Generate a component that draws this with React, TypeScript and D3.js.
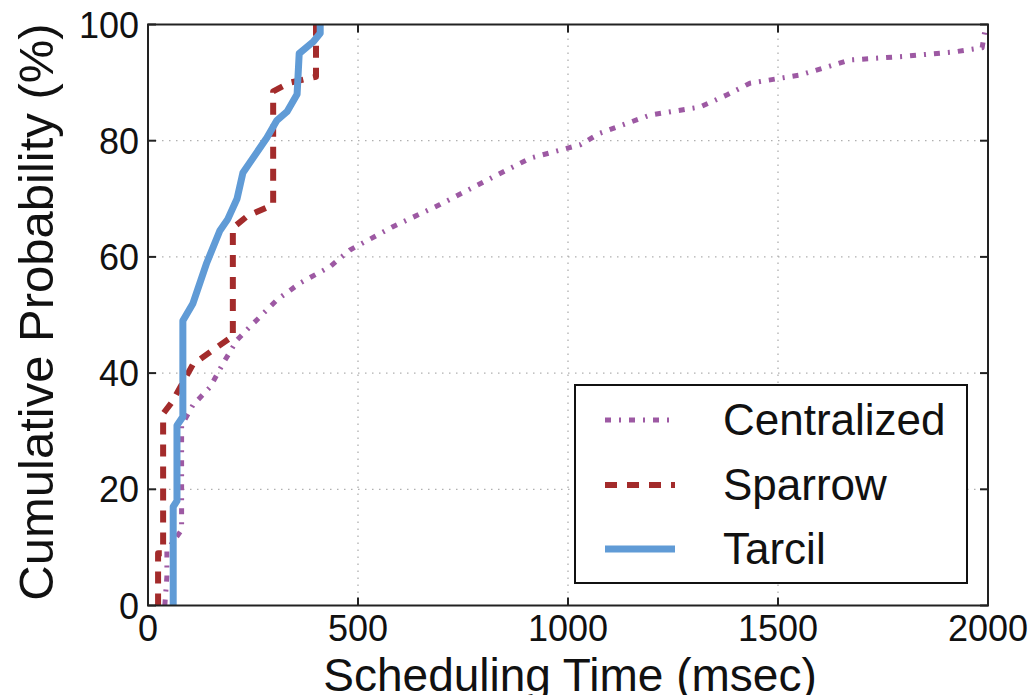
import React from "react";
import * as d3 from "d3";

// CDF samples: [scheduling time (msec), cumulative probability (%)]
const tarcil: [number, number][] = [
  [60, 0], [60, 17], [69, 18], [69, 31], [83, 32.5], [83, 49], [107, 52],
  [140, 59], [171, 64.5], [190, 66.5], [212, 70], [226, 74.5], [283, 80.5],
  [307, 83.5], [331, 85], [355, 88], [360, 95], [393, 97], [410, 98.5], [410, 100],
];

const sparrow: [number, number][] = [
  [24, 0], [24, 9], [36, 9], [36, 33], [57, 35], [107, 41.5], [155, 44],
  [195, 46], [202, 46], [202, 65], [236, 67], [298, 69], [298, 88.5],
  [338, 90], [400, 91], [400, 100],
];

const centralized: [number, number][] = [
  [40, 0], [45, 5], [45, 9.5], [80, 13], [80, 31], [107, 34.5], [148, 37.6],
  [179, 41.7], [212, 45.7], [243, 48], [307, 52.6], [362, 55.5], [433, 58.3],
  [481, 61.2], [583, 65.2], [695, 69], [807, 73.2], [910, 77], [1029, 79.3],
  [1076, 81.3], [1195, 84.4], [1314, 85.8], [1379, 87.9], [1433, 89.9],
  [1552, 91.3], [1617, 92.7], [1671, 93.9], [1798, 94.5], [1921, 95.3],
  [1986, 96], [1995, 100],
];

const xTicks = [0, 500, 1000, 1500, 2000];
const yTicks = [0, 20, 40, 60, 80, 100];

const seriesNames = ["Centralized", "Sparrow", "Tarcil"];

const W = 1033;
const H = 695;
const left = 148;
const right = 988;
const top = 24.5;
const bottom = 605.5;

const FONT = "'Liberation Sans', Arial, Helvetica, sans-serif";

const styles = [
  { color: "#9d59a3", width: 5, dash: "6,8,2,8" },
  { color: "#a32b2b", width: 6, dash: "12,10" },
  { color: "#609bd6", width: 7, dash: undefined as string | undefined },
];

export default function App() {
  const x = d3.scaleLinear().domain([0, 2000]).range([left, right]);
  const y = d3.scaleLinear().domain([0, 100]).range([bottom, top]);
  const line = d3
    .line<[number, number]>()
    .x((d) => x(d[0]))
    .y((d) => y(d[1]));

  const data = [centralized, sparrow, tarcil];

  const legendX = 575;
  const legendY = 385;
  const legendW = 392;
  const legendH = 198;
  const rowBase = [435, 500, 564];

  return (
    <svg
      width={W}
      height={H}
      style={{ position: "absolute", left: 0, top: 0, background: "#fff" }}
      fontFamily={FONT}
    >
      <defs>
        <clipPath id="plot-clip">
          <rect x={left} y={top} width={right - left} height={bottom - top} />
        </clipPath>
      </defs>
      <rect x={0} y={0} width={W} height={H} fill="#fff" />

      {/* grid */}
      <g stroke="#b0b0b0" strokeWidth={1.3} strokeDasharray="1.5,5.5">
        {xTicks.slice(1, -1).map((t) => (
          <line key={"gx" + t} x1={x(t)} x2={x(t)} y1={top} y2={bottom} />
        ))}
        {yTicks.slice(1, -1).map((t) => (
          <line key={"gy" + t} x1={left} x2={right} y1={y(t)} y2={y(t)} />
        ))}
      </g>

      {/* series */}
      <g clipPath="url(#plot-clip)" fill="none">
        {data.map((d, i) => (
          <path
            key={seriesNames[i]}
            d={line(d) || ""}
            stroke={styles[i].color}
            strokeWidth={styles[i].width}
            strokeDasharray={styles[i].dash}
            strokeLinejoin="round"
          />
        ))}
      </g>

      {/* frame */}
      <rect
        x={left}
        y={top}
        width={right - left}
        height={bottom - top}
        fill="none"
        stroke="#222"
        strokeWidth={2}
      />

      {/* inward ticks on all sides */}
      <g stroke="#222" strokeWidth={2}>
        {xTicks.map((t) => (
          <g key={"tx" + t}>
            <line x1={x(t)} x2={x(t)} y1={bottom} y2={bottom - 8} />
            <line x1={x(t)} x2={x(t)} y1={top} y2={top + 8} />
          </g>
        ))}
        {yTicks.map((t) => (
          <g key={"ty" + t}>
            <line x1={left} x2={left + 8} y1={y(t)} y2={y(t)} />
            <line x1={right} x2={right - 8} y1={y(t)} y2={y(t)} />
          </g>
        ))}
      </g>

      {/* tick labels */}
      <g fontSize={36} fill="#111">
        {xTicks.map((t) => (
          <text key={"lx" + t} x={x(t)} y={641} textAnchor="middle">
            {t}
          </text>
        ))}
        {yTicks.map((t) => (
          <text key={"ly" + t} x={139} y={y(t) + 13} textAnchor="end">
            {t}
          </text>
        ))}
      </g>

      {/* axis titles */}
      <text x={(left + right) / 2 + 2} y={691} fontSize={46} textAnchor="middle" fill="#111">
        Scheduling Time (msec)
      </text>
      <text
        transform="translate(53,312) rotate(-90)"
        fontSize={49}
        textAnchor="middle"
        fill="#111"
      >
        Cumulative Probability (%)
      </text>

      {/* legend */}
      <rect
        x={legendX}
        y={legendY}
        width={legendW}
        height={legendH}
        fill="#fff"
        stroke="#111"
        strokeWidth={2}
      />
      {seriesNames.map((name, i) => (
        <g key={"leg" + name}>
          <line
            x1={605}
            x2={675}
            y1={rowBase[i] - 15}
            y2={rowBase[i] - 15}
            stroke={styles[i].color}
            strokeWidth={styles[i].width}
            strokeDasharray={styles[i].dash}
          />
          <text x={723} y={rowBase[i]} fontSize={44} fill="#111">
            {name}
          </text>
        </g>
      ))}
    </svg>
  );
}
